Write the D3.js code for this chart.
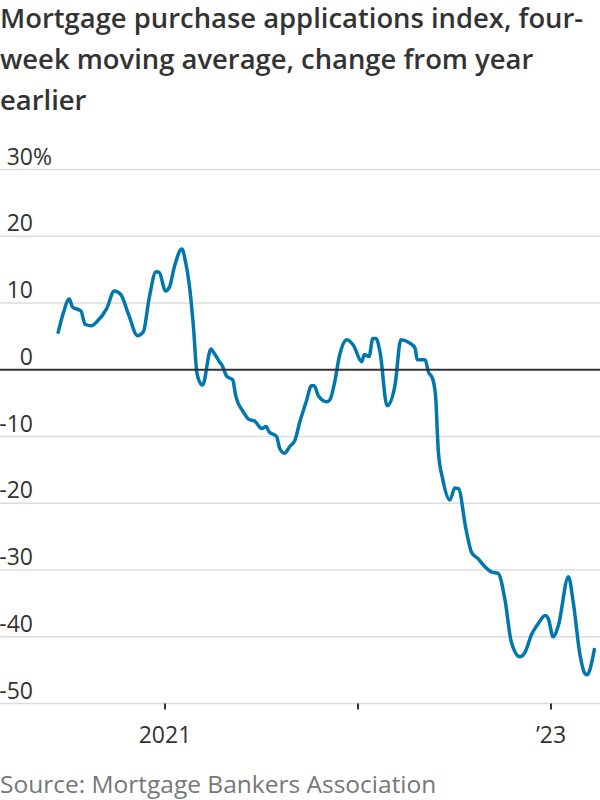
<!DOCTYPE html>
<html>
<head>
<meta charset="utf-8">
<script src="https://cdn.jsdelivr.net/npm/d3@7"></script>
<style>
  html, body { margin: 0; padding: 0; background: #fff; }
  svg { display: block; }
</style>
</head>
<body>
<svg id="chart" width="600" height="800"></svg>
<script>
const titleLines = [
  "Mortgage purchase applications index, four-",
  "week moving average, change from year",
  "earlier"
];
const sourceText = "Source: Mortgage Bankers Association";

const yTicks = [30, 20, 10, 0, -10, -20, -30, -40, -50];
const xTickDates = ["2021-01-01", "2022-01-01", "2023-01-01"];
const xTickLabels = ["2021", "", "\u201923"];

const dates = [
  "2020-06-13","2020-06-22","2020-07-04","2020-07-10","2020-07-26","2020-08-03","2020-08-15","2020-08-25",
  "2020-09-13","2020-09-27","2020-10-09","2020-10-24","2020-11-10","2020-11-21","2020-12-02","2020-12-15",
  "2020-12-21","2021-01-02","2021-01-09","2021-01-19","2021-02-02","2021-02-08","2021-02-16","2021-02-24",
  "2021-03-02","2021-03-05","2021-03-13","2021-03-29","2021-04-02","2021-04-14","2021-04-18","2021-04-28",
  "2021-05-09","2021-05-15","2021-05-29","2021-06-08","2021-06-20","2021-07-03","2021-07-11","2021-07-17",
  "2021-07-31","2021-08-06","2021-08-15","2021-08-25","2021-09-04","2021-09-13","2021-09-25","2021-10-05",
  "2021-10-10","2021-10-18","2021-11-03","2021-11-09","2021-11-18","2021-11-27","2021-12-11","2021-12-23",
  "2022-01-08","2022-01-13","2022-01-22","2022-01-29","2022-02-04","2022-02-12","2022-02-25","2022-03-12",
  "2022-03-23","2022-04-09","2022-04-19","2022-04-23","2022-05-08","2022-05-14","2022-05-22","2022-05-28",
  "2022-05-31","2022-06-02","2022-06-10","2022-06-24","2022-07-03","2022-07-10","2022-07-24","2022-08-04",
  "2022-08-16","2022-08-29","2022-09-11","2022-09-23","2022-10-06","2022-10-18","2022-11-03","2022-11-13",
  "2022-11-25","2022-12-08","2022-12-21","2022-12-27","2023-01-05","2023-01-15","2023-02-03","2023-02-12",
  "2023-02-25","2023-03-06","2023-03-11","2023-03-16","2023-03-24"
];
const values = [
  5.6, 8.3, 10.6, 9.4, 8.8, 6.8, 6.6, 7.2,
  9.2, 11.8, 11.3, 8.3, 5.1, 5.7, 10.7, 14.7,
  14.6, 11.8, 12.3, 15.5, 18.1, 16.5, 12.7, 6.2,
  -0.3, -1.3, -2.3, 3.1, 2.7, 1.2, 0.8, -1.0,
  -1.5, -4.0, -6.3, -7.4, -7.7, -8.8, -8.5, -9.3,
  -10.0, -11.8, -12.5, -11.5, -10.5, -7.8, -4.8, -2.4,
  -2.4, -3.9, -4.8, -4.5, -1.8, 2.1, 4.5, 3.7,
  1.2, 2.3, 2.0, 4.7, 4.7, 2.5, -5.4, -2.3,
  4.5, 4.0, 3.2, 1.5, 1.5, -0.3, -1.3, -4.2,
  -9.3, -12.3, -16.3, -19.5, -17.7, -17.8, -23.8, -27.4,
  -28.3, -29.5, -30.3, -30.5, -34.5, -40.8, -43.0, -42.3,
  -39.7, -38.0, -36.8, -37.3, -40.0, -38.3, -31.0, -34.8,
  -42.8, -45.5, -45.7, -44.8, -41.9
];

const parse = d3.utcParse("%Y-%m-%d");
const data = dates.map((d, i) => ({ date: parse(d), value: values[i] }));

const svg = d3.select("#chart");
const W = 600;
const fontFam = "'Open Sans', Roboto, sans-serif";

// Title
const title = svg.append("g");
titleLines.forEach((t, i) => {
  title.append("text")
    .attr("x", 0)
    .attr("y", 28 + i * 41)
    .attr("font-family", fontFam)
    .attr("font-weight", 600)
    .attr("font-size", 27.4)
    .attr("fill", "#333")
    .text(t);
});

const x = d3.scaleUtc()
  .domain([parse(xTickDates[0]), parse(xTickDates[2])])
  .range([165, 551]);
const y = d3.scaleLinear().domain([-50, 30]).range([703.5, 169.5]);

// Grid lines
const grid = svg.append("g");
grid.selectAll("line")
  .data(yTicks.filter(d => d !== 0))
  .join("line")
  .attr("x1", 0).attr("x2", W)
  .attr("y1", d => y(d)).attr("y2", d => y(d))
  .attr("stroke", "#dcdcdc")
  .attr("stroke-width", 1.5);

// Y labels
const ylab = svg.append("g");
ylab.selectAll("text")
  .data(yTicks)
  .join("text")
  .attr("x", 33)
  .attr("y", d => y(d) - 5)
  .attr("font-family", fontFam)
  .attr("font-size", 23)
  .attr("fill", "#333")
  .attr("text-anchor", "end")
  .text(d => String(d));
ylab.append("text")
  .attr("x", 33)
  .attr("y", y(yTicks[0]) - 5)
  .attr("font-family", fontFam)
  .attr("font-size", 23)
  .attr("fill", "#333")
  .text("%");

// X axis ticks
const xt = svg.append("g");
xt.selectAll("line")
  .data(xTickDates)
  .join("line")
  .attr("x1", d => x(parse(d))).attr("x2", d => x(parse(d)))
  .attr("y1", y(-50)).attr("y2", y(-50) + 6)
  .attr("stroke", "#333")
  .attr("stroke-width", 2);
xt.selectAll("text")
  .data(xTickDates)
  .join("text")
  .attr("x", d => x(parse(d)))
  .attr("y", 743)
  .attr("text-anchor", "middle")
  .attr("font-family", fontFam)
  .attr("font-size", 23)
  .attr("fill", "#333")
  .text((d, i) => xTickLabels[i]);

// Line
const line = d3.line()
  .x(d => x(d.date))
  .y(d => y(d.value))
  .curve(d3.curveMonotoneX);
svg.append("path")
  .datum(data)
  .attr("d", line)
  .attr("fill", "none")
  .attr("stroke", "#0177ad")
  .attr("stroke-width", 3.5)
  .attr("stroke-linejoin", "round")
  .attr("stroke-linecap", "round");

// Zero line (on top)
svg.append("line")
  .attr("x1", 0).attr("x2", W)
  .attr("y1", y(0)).attr("y2", y(0))
  .attr("stroke", "#333")
  .attr("stroke-width", 2);

// Source
svg.append("text")
  .attr("x", 0)
  .attr("y", 793)
  .attr("font-family", fontFam)
  .attr("font-size", 24.5)
  .attr("fill", "#777")
  .text(sourceText);
</script>
</body>
</html>
